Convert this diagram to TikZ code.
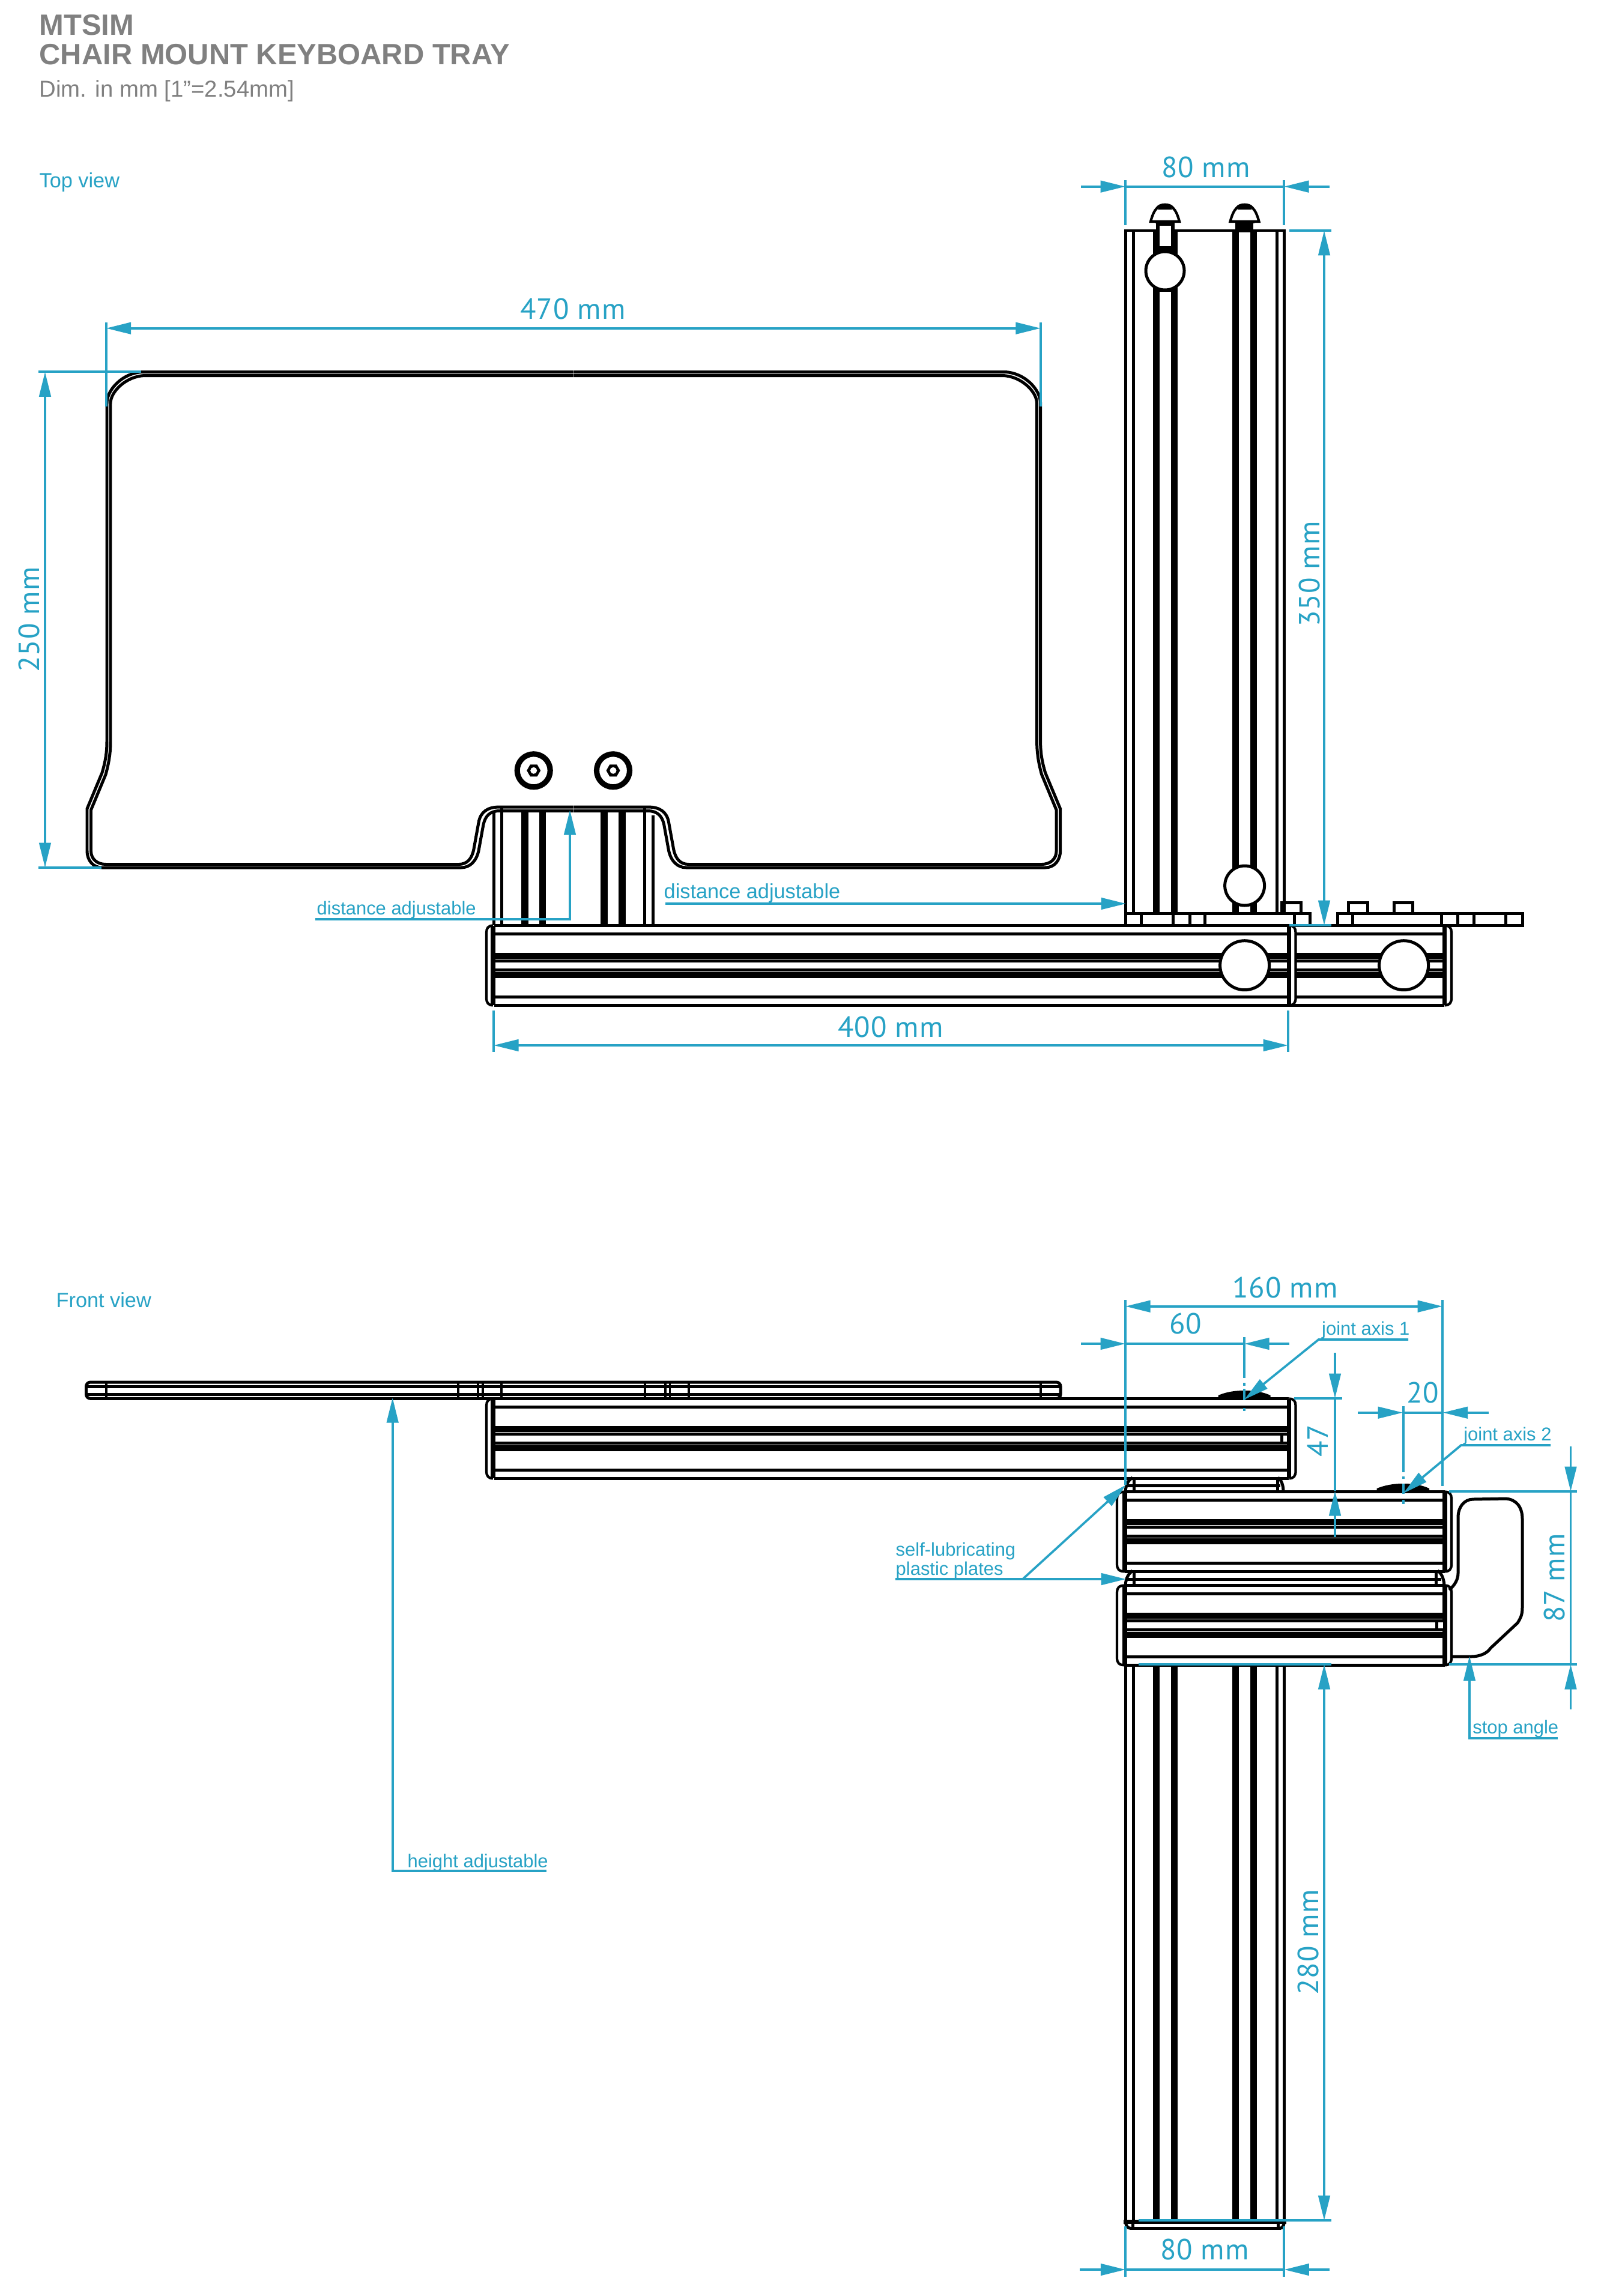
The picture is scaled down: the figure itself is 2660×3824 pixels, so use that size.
\documentclass[tikz,border=0pt]{standalone}
\usepackage{fontspec}
\setmainfont{Liberation Sans}
\newfontfamily\dimf[LetterSpace=2]{PT Sans}
\usetikzlibrary{arrows.meta}
\definecolor{dimblue}{HTML}{27A2C5}
\definecolor{titlegray}{HTML}{808080}
\tikzset{
  bl/.style={line width=1.42pt,black},
  thk/.style={line width=3.13pt,black},
  dm/.style={draw=dimblue,line width=1.05pt},
  dimtip/.style={>={Triangle[length=11.8pt,width=5.5pt]}},
  lab/.style={text=dimblue,inner sep=0pt,anchor=base west,font=\fontsize{8.8pt}{10pt}\selectfont},
  labbig/.style={text=dimblue,inner sep=0pt,anchor=base west,font=\fontsize{9.75pt}{11pt}\selectfont},
  dimt/.style={text=dimblue,inner sep=0pt,anchor=base,font=\dimf\fontsize{13.8pt}{15pt}\selectfont},
  ttl/.style={text=titlegray,inner sep=0pt,anchor=base west},
}
% horizontal extruded beam; #1,#2 x range; #3 y offset relative to top view
\newcommand\HBeam[3]{\begin{scope}[shift={(0,#3)}]
  \foreach \yy in {1541.5,1555.5,1600.3,1615.5,1660.3,1674.3}{\draw[bl] (#1,\yy) -- (#2,\yy);}
  \fill[black] (#1,1586.7) rectangle (#2,1596.7);
  \fill[black] (#1,1619) rectangle (#2,1628.5);
\end{scope}}
% left cap: #1 outer x, #2 inner x, #3 y offset
\newcommand\CapL[3]{\begin{scope}[shift={(0,#3)}]
  \fill[white] (#1,1545) rectangle (#2,1672);
  \draw[bl,line width=1.2pt] (#2,1541.5) .. controls (#1+3,1541.5) and (#1,1546) .. (#1,1553) -- (#1,1662) .. controls (#1,1670) and (#1+3,1674.3) .. (#2,1674.3);
  \draw[bl,line width=2.2pt] (#2,1541.5) -- (#2,1674.3);
\end{scope}}
\newcommand\CapR[3]{\begin{scope}[shift={(0,#3)}]
  \fill[white] (#2,1545) rectangle (#1,1672);
  \draw[bl,line width=1.2pt] (#2,1541.5) .. controls (#1-3,1541.5) and (#1,1546) .. (#1,1553) -- (#1,1662) .. controls (#1,1670) and (#1-3,1674.3) .. (#2,1674.3);
  \draw[bl,line width=2.2pt] (#2,1541.5) -- (#2,1674.3);
\end{scope}}
% vertical beam rails between y #1 and #2
\newcommand\VRails[2]{
  \foreach \xx in {1874.3,1887.3,2126,2138.3}{\draw[bl] (\xx,#1) -- (\xx,#2);}
  \foreach \xx in {1925.5,1955.5,2057.5,2087}{\draw[thk] (\xx,#1) -- (\xx,#2);}
}
% T-bolt head, #1 = x centre
\newcommand\Bullet[1]{\begin{scope}[shift={(#1,0)}]
  \filldraw[bl,line width=1.2pt,fill=white] (-24,369) .. controls (-21,358) and (-18,351) .. (-13,346) .. controls (-8,339) and (8,339) .. (13,346) .. controls (18,351) and (21,358) .. (24,369) -- cycle;
  \fill[black] (-12,349) .. controls (-8,338) and (8,338) .. (12,349) -- cycle;
  \fill[black] (-16,367.5) rectangle (16,372);
\end{scope}}
% tray half outline, double line
\newcommand\TrayHalf{
  \draw[bl] (955,1350.5) -- (832,1350.5) .. controls (815,1350.5) and (808,1360) .. (805,1373) -- (797,1417) .. controls (793,1435) and (782,1445) .. (768,1445) -- (170,1445) .. controls (155,1445) and (145,1433) .. (145,1417) -- (145,1347) -- (170,1287) .. controls (175,1270) and (178,1255) .. (178,1235) -- (178,672) .. controls (178,648) and (205,621) .. (237,619.5) -- (955,619.5);
  \draw[bl] (955,1344) -- (832,1344) .. controls (812,1344) and (800,1352) .. (797,1370) -- (789,1414) .. controls (786,1430) and (778,1439.5) .. (764,1439.5) -- (176,1439.5) .. controls (162,1439.5) and (151.5,1431) .. (151.5,1417) -- (151.5,1349) -- (176,1290) .. controls (181,1272) and (184,1255) .. (184,1235) -- (184,672) .. controls (184,652) and (210,627) .. (240,625.5) -- (955,625.5);
}
% screw with hex socket
\newcommand\Screw[1]{\begin{scope}[shift={(#1,1283.3)}]
  \draw[bl,line width=2.6pt] (0,0) circle [radius=27.5];
  \fill[black] (11.5,0) -- (5.75,10) -- (-5.75,10) -- (-11.5,0) -- (-5.75,-10) -- (5.75,-10) -- cycle;
  \fill[white] (0,0) circle [radius=5.5];
\end{scope}}
\newcommand\Bump[2]{\draw[bl] (#1,1521) -- (#1,1503) -- (#2,1503) -- (#2,1521);\fill[black] (#1-2,1500.5) rectangle (#2+2,1506);}
\begin{document}
\begin{tikzpicture}[x=0.01cm,y=-0.01cm,dimtip]
\path[use as bounding box,fill=white] (0,0) rectangle (2660,3824);

% ---------- titles
\node[ttl,font=\bfseries\fontsize{13.9pt}{15pt}\selectfont] (title1) at (65,59) {MTSIM};
\node[ttl,font=\bfseries\fontsize{13.9pt}{15pt}\selectfont] (title2) at (65,107.7) {CHAIR MOUNT KEYBOARD TRAY};
\node[ttl,font=\fontsize{10.9pt}{12pt}\selectfont] (title3) at (65,162) {Dim. in mm [1"=2.54mm]};
\node[labbig] (topview) at (65,312) {Top view};
\node[labbig] (frontview) at (93,2177) {Front view};

% ---------- top view: vertical beam
\VRails{384}{1521}
\draw[bl,line cap=rect] (1874.3,384) -- (2138.3,384);
\draw[bl] (1874.3,1521) -- (1874.3,1541);
\fill[black] (1925,370) rectangle (1955.6,384);
\fill[black] (1920,384) rectangle (1961,428);
\fill[white] (1930.7,376) rectangle (1950,410);
\fill[black] (1931,478) rectangle (1950,486);
\fill[black] (2057,370) rectangle (2087,387);
\Bullet{1940}
\Bullet{2072.5}
\filldraw[bl,fill=white] (1940,451) circle [radius=32];
\Bump{2055}{2089}
\filldraw[bl,fill=white] (2072.6,1475) circle [radius=33];
\Bump{2134}{2166}
\Bump{2245}{2277}
\Bump{2321}{2352}
% mounting plates
\draw[bl] (1874,1521) -- (2181,1521) -- (2181,1541);
\draw[bl] (2227,1541) -- (2227,1521) -- (2535,1521) -- (2535,1541.5) -- (2405,1541.5);
\foreach \xx in {1900,1953.6,1981,2006,2155,2252.5,2400.6,2427,2454,2507.6}{\draw[bl] (\xx,1521) -- (\xx,1541);}

% ---------- top view: horizontal beam
\HBeam{823}{2405}{0}
\CapL{810}{821}{0}
\CapR{2157.5}{2146.5}{0}
\CapR{2417}{2405.5}{0}
\filldraw[bl,fill=white] (2072.6,1607.7) circle [radius=41];
\filldraw[bl,fill=white] (2337.6,1607.7) circle [radius=41];

% ---------- top view: sliding rails below tray
\foreach \xx/\ya in {822/1354,835.7/1346,1073.3/1346,1087/1358}{\draw[bl] (\xx,\ya) -- (\xx,1541);}
\foreach \xx in {874,903.5,1006,1036}{\draw[thk,line width=3.3pt] (\xx,1351) -- (\xx,1541);}

% ---------- tray
\TrayHalf
\begin{scope}[xshift=19.095cm,xscale=-1]\TrayHalf\end{scope}
\Screw{888.7}
\Screw{1021}

% ---------- front view: tray plate
\draw[bl,rounded corners=2pt] (143.5,2302) rectangle (1766,2329.3);
\draw[bl] (146,2309.3) -- (1764,2309.3);
\draw[bl] (146,2322.3) -- (1764,2322.3);
\foreach \xx in {177,763,796,804,835,1074,1108,1115.5,1147,1732.6}{\draw[bl,line width=1.1pt] (\xx,2302) -- (\xx,2329);}

% ---------- front view: base beam
\VRails{2772}{3700}
\draw[bl,line width=2pt] (1871,3700) -- (2142,3700);
\draw[bl] (1881,3711) -- (2133,3711);
\draw[bl] (1874.3,3701) .. controls (1875,3707) and (1878,3711) .. (1882,3711);
\draw[bl] (2138.3,3701) .. controls (2138,3707) and (2135,3711) .. (2132,3711);
\draw[bl] (1886,3702) -- (1886,3711);
\draw[bl] (2128,3702) -- (2128,3711);

% ---------- front view: slide plates
\draw[bl] (1875,2474) -- (2132,2474);
\draw[bl] (1888,2461) -- (1888,2484);
\draw[bl] (2127.5,2461) -- (2127.5,2484);
\draw[bl] (1874,2484) .. controls (1875,2472) and (1879,2465) .. (1886,2461);
\draw[bl] (2128,2461) .. controls (2134,2465) and (2137,2474) .. (2137,2484);
\draw[bl] (1875,2630) -- (2400,2630);
\draw[bl] (1888,2616) -- (1888,2640);
\draw[bl] (2391.5,2616) -- (2391.5,2640);
\draw[bl] (1874,2640) .. controls (1875,2628) and (1879,2621) .. (1886,2616);
\draw[bl] (2394,2616) .. controls (2400,2620) and (2404,2628) .. (2405,2640);

% ---------- front view: beams
\HBeam{823}{2146}{788}
\CapL{810}{821}{788}
\CapR{2157.5}{2146.5}{788}
\HBeam{1873}{2406}{943}
\CapL{1860}{1873}{943}
\CapR{2417}{2406}{943}
\HBeam{1873}{2406}{1099}
\CapL{1860}{1873}{1099}
\CapR{2417}{2406}{1099}
\fill[white] (2134,2391) rectangle (2143,2401);
\draw[bl] (2134,2386) -- (2134,2406);
\fill[white] (2394,2702) rectangle (2403,2712);
\draw[bl] (2392,2697) -- (2392,2717);
% domes over the joint axes
\fill[black] (2028.5,2329) -- (2028.5,2324) .. controls (2045,2317) and (2060,2316) .. (2072,2316) .. controls (2085,2316) and (2100,2317) .. (2115.7,2324) -- (2115.7,2329) -- cycle;
\fill[black] (2292.6,2484) -- (2292.6,2479) .. controls (2310,2472) and (2325,2471) .. (2336,2471) .. controls (2350,2471) and (2365,2472) .. (2380,2479) -- (2380,2484) -- cycle;
% stop
\draw[bl] (2413,2648) .. controls (2423,2640) and (2428,2630) .. (2428,2620) -- (2428,2527) .. controls (2428,2510) and (2438,2497) .. (2453,2497) -- (2507,2496) .. controls (2525,2497) and (2535,2510) .. (2535,2530) -- (2535,2677) .. controls (2535,2690) and (2532,2695) .. (2527,2703) -- (2482,2745) .. controls (2477,2753) and (2465,2759) .. (2450,2759) -- (2417,2759);

% ---------- dimensions, top view
\draw[dm] (1874,300) -- (1874,375);
\draw[dm] (2138,300) -- (2138,375);
\draw[dm] (1874,310.7) -- (2138,310.7);
\draw[dm,->] (1800,310.7) -- (1874,310.7);
\draw[dm,->] (2214,310.7) -- (2138,310.7);
\node[dimt] (d80a) at (2008,295) {80 mm};

\draw[dm] (176.7,537) -- (176.7,677);
\draw[dm] (1732.8,537) -- (1732.8,677);
\draw[dm,<->] (176.7,546.7) -- (1732.8,546.7);
\node[dimt] (d470) at (954,531) {470 mm};

\draw[dm] (64,619.3) -- (235,619.3);
\draw[dm] (64,1445) -- (169,1445);
\draw[dm,<->] (75,619.3) -- (75,1445);
\node[dimt,rotate=90] (d250) at (65,1032) {250 mm};

\draw[dm] (2147,384) -- (2217,384);
\draw[dm] (2147,1541) -- (2217,1541);
\draw[dm,<->] (2205,384) -- (2205,1541);
\node[dimt,rotate=90] (d350) at (2197,956) {350 mm};

\draw[dm] (822,1683) -- (822,1752);
\draw[dm] (2145,1683) -- (2145,1752);
\draw[dm,<->] (822,1741) -- (2145,1741);
\node[dimt] (d400) at (1483,1727) {400 mm};

\node[lab] (da1) at (527,1523) {distance adjustable};
\draw[dm,->] (525,1530.7) -- (949,1530.7) -- (949,1349);
\node[labbig] (da2) at (1105,1496) {distance adjustable};
\draw[dm,->] (1108,1505) -- (1875,1505);

% ---------- dimensions, front view
\draw[dm] (1874,2165) -- (1874,2473);
\draw[dm] (2402,2165) -- (2402,2475);
\draw[dm,<->] (1874,2175.7) -- (2402,2175.7);
\node[dimt] (d160) at (2140,2161) {160 mm};

\draw[dm] (1874,2238) -- (2072,2238);
\draw[dm,->] (1800,2238) -- (1874,2238);
\draw[dm,->] (2147,2238) -- (2072,2238);
\node[dimt] (d60) at (1974,2221) {60};
\draw[dm] (2072,2227) -- (2072,2295);
\draw[dm] (2072,2303) -- (2072,2308);
\draw[dm] (2072,2313) -- (2072,2332);
\draw[dm] (2072,2345) -- (2072,2350);

\node[lab] (ja1) at (2200.5,2223) {joint axis 1};
\draw[dm,->] (2345,2231) -- (2195.7,2231) -- (2072,2331);

\draw[dm] (2154.5,2329) -- (2234.5,2329);
\draw[dm] (2223,2329) -- (2223,2483);
\draw[dm,->] (2223,2253) -- (2223,2329);
\draw[dm,->] (2223,2560) -- (2223,2483);
\node[dimt,rotate=90] (d47) at (2211.5,2400) {47};

\draw[dm] (2336,2352.7) -- (2402.7,2352.7);
\draw[dm,->] (2261,2352.7) -- (2336,2352.7);
\draw[dm,->] (2479,2352.7) -- (2402.7,2352.7);
\node[dimt] (d20) at (2369,2336.7) {20};
\draw[dm] (2337,2342) -- (2337,2452);
\draw[dm] (2337,2459) -- (2337,2463);
\draw[dm] (2337,2471) -- (2337,2488);
\draw[dm] (2337,2498) -- (2337,2505);

\node[lab] (ja2) at (2436.6,2399) {joint axis 2};
\draw[dm,->] (2582,2407) -- (2433,2407) -- (2337,2487);

\draw[dm] (2413,2484) -- (2625.6,2484);
\draw[dm] (2413,2772) -- (2625.6,2772);
\draw[dm] (2615.5,2484) -- (2615.5,2772);
\draw[dm,->] (2615.5,2409) -- (2615.5,2484);
\draw[dm,->] (2615.5,2847) -- (2615.5,2772);
\node[dimt,rotate=90] (d87) at (2605,2628) {87 mm};

\node[lab] (stopl) at (2451.6,2887.5) {stop angle};
\draw[dm,->] (2594,2895) -- (2447,2895) -- (2447,2758);

\node[lab] (sl1) at (1491,2591) {self-lubricating};
\node[lab] (sl2) at (1491,2623) {plastic plates};
\draw[dm,->] (1491,2630) -- (1875,2630);
\draw[dm,->] (1703,2630) -- (1875,2473);

\draw[dm] (1896,2772) -- (2217,2772);
\draw[dm] (1896,3698) -- (2217,3698);
\draw[dm,<->] (2205,2772) -- (2205,3698);
\node[dimt,rotate=90] (d280) at (2195,3235) {280 mm};

\node[lab] (hadj) at (678,3110) {height adjustable};
\draw[dm,->] (910,3116) -- (653.7,3116) -- (653.7,2328);

\draw[dm] (1874.3,3708) -- (1874.3,3792);
\draw[dm] (2138.3,3708) -- (2138.3,3792);
\draw[dm] (1874.3,3780) -- (2138.3,3780);
\draw[dm,->] (1798,3780) -- (1874.3,3780);
\draw[dm,->] (2214,3780) -- (2138.3,3780);
\node[dimt] (d80b) at (2006,3763) {80 mm};
\end{tikzpicture}
\end{document}
